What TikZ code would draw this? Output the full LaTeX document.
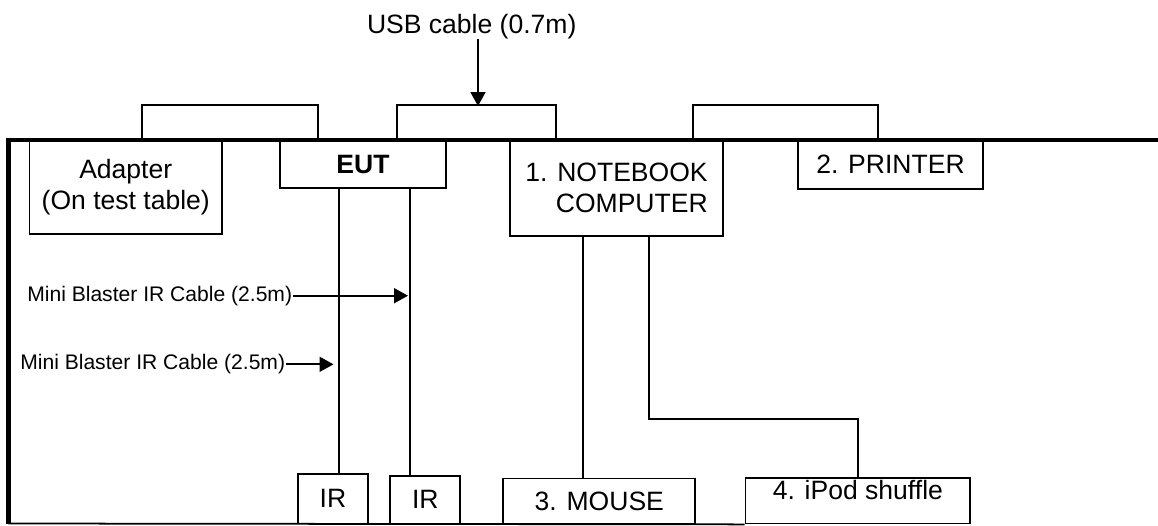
\documentclass[tikz,border=0pt]{standalone}
\usepackage{fontspec}
\setmainfont{Liberation Sans}
\usetikzlibrary{arrows.meta,calc}

\begin{document}
\begin{tikzpicture}[
    font=\fontsize{15.1}{17.4}\selectfont,
    >={Triangle[length=0.28cm,width=0.3cm]},
    line width=1pt,
    dev/.style={draw, inner sep=0pt, align=center},
    cbl/.style={font=\fontsize{12}{14}\selectfont, inner sep=0pt, anchor=east}
]
    \useasboundingbox (0,0) rectangle (23.16,-10.5);

    % devices on the table
    \node[dev, minimum width=3.85cm, minimum height=1.88cm] (adapter) at (2.515,-3.74) {Adapter\\(On test table)};
    \node[dev, minimum width=3.32cm, minimum height=0.96cm] (eut) at (7.26,-3.28) {\textbf{EUT}};
    \node[dev, align=right, minimum width=4.26cm, minimum height=1.92cm] (notebook) at (12.33,-3.76) {1. NOTEBOOK\\COMPUTER};
    \node[dev, minimum width=3.70cm, minimum height=0.98cm] (printer) at (17.81,-3.29) {2. PRINTER};
    \node[dev, minimum width=1.41cm, minimum height=0.99cm] (ir1) at (6.66,-9.975) {IR};
    \node[dev, minimum width=1.40cm, minimum height=0.95cm] (ir2) at (8.506,-9.995) {IR};
    \node[dev, minimum width=3.84cm, minimum height=0.90cm] (mouse) at (11.986,-10.02) {3. MOUSE};
    \node[dev, text depth=0.43cm, minimum width=4.49cm, minimum height=0.91cm] (ipod) at (17.157,-10.015) {4. iPod shuffle};

    % table edge
    \draw[line width=2.8pt] (23.16,-2.80) -- (0.17,-2.80) -- (0.17,-10.47);
    \draw (0.17,-10.47) -- (ipod.south west);

    % cables over the edge
    \draw ($(adapter.north)+(0.33,0)$) -- ++(0,0.68) -| ($(eut.north)+(-0.9,0)$);
    \draw ($(eut.north)+(0.68,0)$) -- ++(0,0.68) -| ($(notebook.north)+(-1.21,0)$);
    \draw ($(notebook.north)+(1.53,0)$) -- ++(0,0.68) -| ($(printer.north)+(-0.25,0)$);

    % cables on the table
    \draw ($(ir1.north)+(0.114,0)$) coordinate (c1) -- (c1 |- eut.south);
    \draw ($(ir2.north)+(-0.306,0)$) coordinate (c2) -- (c2 |- eut.south);
    \draw ($(notebook.south)+(-0.664,0)$) coordinate (c3) -- (c3 |- mouse.north);
    \draw ($(notebook.south)+(0.656,0)$) -- ++(0,-3.646) -| (ipod.north);

    % cable labels
    \node[anchor=base, inner sep=0pt] (usb) at (9.434,-0.66) {USB cable (0.7m)};
    \coordinate (usbtip) at (9.56,-2.12);
    \draw[->] (usb.south -| usbtip) -- (usbtip);

    \node[cbl] (irlab1) at (5.86,-5.914) {Mini Blaster IR Cable (2.5m)};
    \coordinate (irtip1) at (8.16,-5.914);
    \draw[->] (irlab1.east) -- (irtip1);
    \node[cbl] (irlab2) at (5.72,-7.286) {Mini Blaster IR Cable (2.5m)};
    \coordinate (irtip2) at (6.67,-7.286);
    \draw[->] (irlab2.east) -- (irtip2);
\end{tikzpicture}
\end{document}
